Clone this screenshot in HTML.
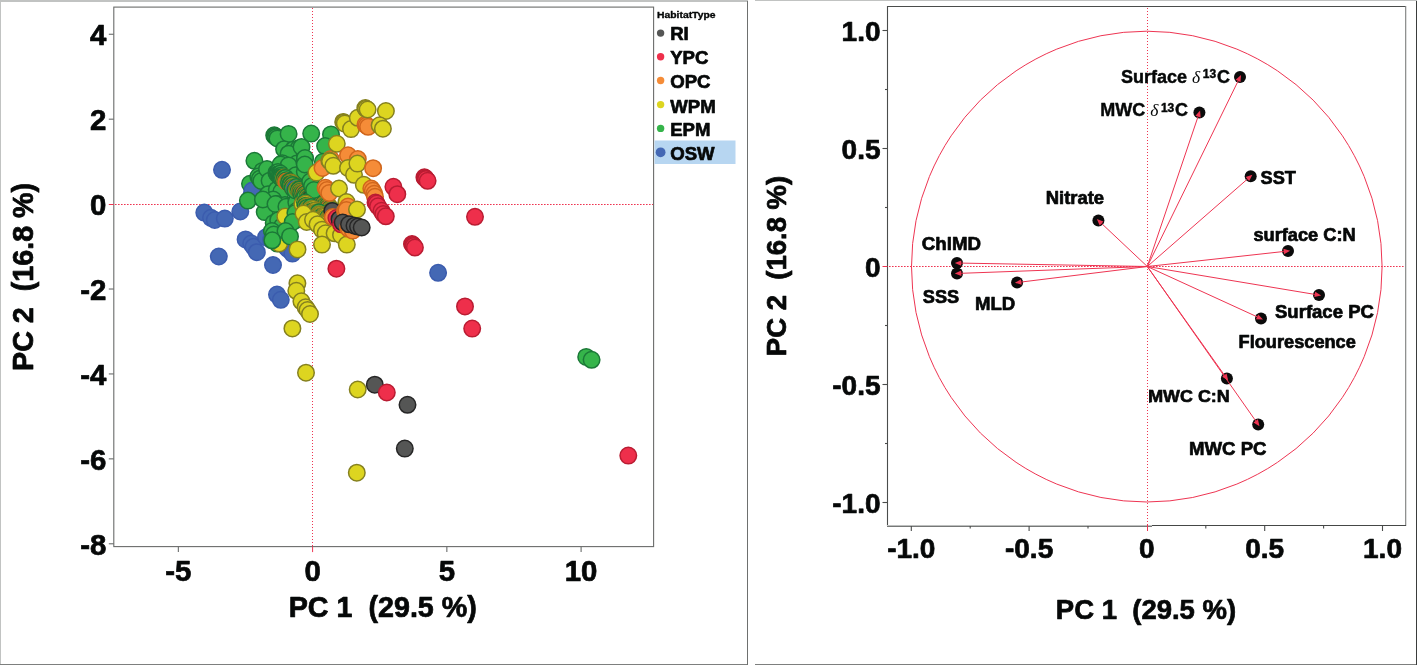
<!DOCTYPE html>
<html lang="en"><head><meta charset="utf-8"><title>PCA plots</title>
<style>html,body{margin:0;padding:0;background:#fff;}body{width:1417px;height:666px;overflow:hidden;}svg{display:block;}text{font-family:'Liberation Sans', Arial, Helvetica, sans-serif;font-weight:bold;fill:#060808;stroke:#060808;stroke-width:0.7px;stroke-linejoin:round;}.s{stroke-width:0.45px;}</style>
</head><body>
<svg width="1417" height="666" viewBox="0 0 1417 666">
<rect x="0" y="0" width="1417" height="666" fill="#ffffff"/>
<g shape-rendering="crispEdges">
<rect x="0" y="0" width="748" height="2" fill="#c1c3c2"/>
<rect x="0" y="0" width="1" height="665" fill="#c1c3c2"/>
<rect x="0" y="664" width="748" height="1" fill="#7d7f7e"/>
<rect x="747" y="1" width="1" height="664" fill="#6e706f"/>
<rect x="755" y="0" width="662" height="1" fill="#c1c3c2"/>
<rect x="755" y="664" width="662" height="1" fill="#7d7f7e"/>
<rect x="1416" y="1" width="1" height="664" fill="#3a3c3b"/>
</g>
<g fill="none" stroke="#6a6c6b" stroke-width="1.1">
<rect x="113.8" y="7.1" width="539.8" height="539.5"/>
<path d="M108.8 34.26H113.8"/>
<path d="M108.8 119.18H113.8"/>
<path d="M108.8 289.02H113.8"/>
<path d="M108.8 373.94H113.8"/>
<path d="M108.8 458.86H113.8"/>
<path d="M108.8 543.78H113.8"/>
<path d="M178.35 546.6V552.1"/>
<path d="M446.85 546.6V552.1"/>
<path d="M581.10 546.6V552.1"/>
</g>
<g fill="none" stroke="#ee3552" stroke-width="1">
<path d="M108.8 204.5H113.8"/>
<path d="M312.60 546.6V552.1"/>
<path stroke-dasharray="1.6 1.4" d="M115 204.5H653"/>
<path stroke-dasharray="1 2" d="M312.5 8V546"/>
</g>
<g font-size="29.4">
<text x="106.4" y="45.0" text-anchor="end">4</text>
<text x="106.4" y="129.9" text-anchor="end">2</text>
<text x="106.4" y="214.8" text-anchor="end">0</text>
<text x="106.4" y="299.7" text-anchor="end">-2</text>
<text x="106.4" y="384.6" text-anchor="end">-4</text>
<text x="106.4" y="469.6" text-anchor="end">-6</text>
<text x="106.4" y="554.5" text-anchor="end">-8</text>
<text x="178.4" y="581.3" text-anchor="middle">-5</text>
<text x="312.6" y="581.3" text-anchor="middle">0</text>
<text x="446.9" y="581.3" text-anchor="middle">5</text>
<text x="581.1" y="581.3" text-anchor="middle">10</text>
<text x="382.8" y="616.5" font-size="28.7" text-anchor="middle" xml:space="preserve">PC 1  (29.5 %)</text>
<text transform="translate(32.7 276.9) rotate(-90)" font-size="28.7" text-anchor="middle" xml:space="preserve">PC 2  (16.8 %)</text>
</g>
<g stroke-width="1.50">
<circle cx="222.0" cy="169.8" r="8.25" fill="#4468b4" stroke="#3b5cae"/>
<circle cx="204.3" cy="212.6" r="8.25" fill="#4468b4" stroke="#3b5cae"/>
<circle cx="211.0" cy="217.8" r="8.25" fill="#4468b4" stroke="#3b5cae"/>
<circle cx="214.8" cy="220.0" r="8.25" fill="#4468b4" stroke="#3b5cae"/>
<circle cx="224.8" cy="218.6" r="8.25" fill="#4468b4" stroke="#3b5cae"/>
<circle cx="240.3" cy="211.5" r="8.25" fill="#4468b4" stroke="#3b5cae"/>
<circle cx="251.2" cy="195.9" r="8.25" fill="#4468b4" stroke="#3b5cae"/>
<circle cx="245.6" cy="239.4" r="8.25" fill="#4468b4" stroke="#3b5cae"/>
<circle cx="251.2" cy="243.6" r="8.25" fill="#4468b4" stroke="#3b5cae"/>
<circle cx="253.5" cy="246.8" r="8.25" fill="#4468b4" stroke="#3b5cae"/>
<circle cx="256.8" cy="252.2" r="8.25" fill="#4468b4" stroke="#3b5cae"/>
<circle cx="218.8" cy="256.5" r="8.25" fill="#4468b4" stroke="#3b5cae"/>
<circle cx="266.0" cy="237.3" r="8.25" fill="#4468b4" stroke="#3b5cae"/>
<circle cx="271.0" cy="240.0" r="8.25" fill="#4468b4" stroke="#3b5cae"/>
<circle cx="273.0" cy="265.0" r="8.25" fill="#4468b4" stroke="#3b5cae"/>
<circle cx="277.0" cy="294.6" r="8.25" fill="#4468b4" stroke="#3b5cae"/>
<circle cx="280.8" cy="299.8" r="8.25" fill="#4468b4" stroke="#3b5cae"/>
<circle cx="286.4" cy="247.3" r="8.25" fill="#4468b4" stroke="#3b5cae"/>
<circle cx="288.3" cy="249.3" r="8.25" fill="#4468b4" stroke="#3b5cae"/>
<circle cx="292.4" cy="253.6" r="8.25" fill="#4468b4" stroke="#3b5cae"/>
<circle cx="438.1" cy="272.8" r="8.25" fill="#4468b4" stroke="#3b5cae"/>
<circle cx="250.0" cy="183.8" r="8.25" fill="#35b44a" stroke="#1b7837"/>
<circle cx="252.3" cy="190.6" r="8.25" fill="#4468b4" stroke="#3b5cae"/>
<circle cx="274.2" cy="135.3" r="8.25" fill="#35b44a" stroke="#1b7837"/>
<circle cx="275.1" cy="136.2" r="8.25" fill="#35b44a" stroke="#1b7837"/>
<circle cx="276.0" cy="137.2" r="8.25" fill="#35b44a" stroke="#1b7837"/>
<circle cx="277.4" cy="138.4" r="8.25" fill="#35b44a" stroke="#1b7837"/>
<circle cx="288.6" cy="133.9" r="8.25" fill="#35b44a" stroke="#1b7837"/>
<circle cx="311.2" cy="133.6" r="8.25" fill="#35b44a" stroke="#1b7837"/>
<circle cx="331.0" cy="134.4" r="8.25" fill="#35b44a" stroke="#1b7837"/>
<circle cx="284.1" cy="149.2" r="8.25" fill="#35b44a" stroke="#1b7837"/>
<circle cx="293.2" cy="149.7" r="8.25" fill="#35b44a" stroke="#1b7837"/>
<circle cx="298.6" cy="148.3" r="8.25" fill="#35b44a" stroke="#1b7837"/>
<circle cx="288.6" cy="153.7" r="8.25" fill="#35b44a" stroke="#1b7837"/>
<circle cx="325.1" cy="146.1" r="8.25" fill="#35b44a" stroke="#1b7837"/>
<circle cx="301.5" cy="147.0" r="8.25" fill="#35b44a" stroke="#1b7837"/>
<circle cx="254.4" cy="160.8" r="8.25" fill="#35b44a" stroke="#1b7837"/>
<circle cx="282.3" cy="163.2" r="8.25" fill="#35b44a" stroke="#1b7837"/>
<circle cx="290.0" cy="166.4" r="8.25" fill="#35b44a" stroke="#1b7837"/>
<circle cx="296.8" cy="163.6" r="8.25" fill="#35b44a" stroke="#1b7837"/>
<circle cx="304.9" cy="159.1" r="8.25" fill="#35b44a" stroke="#1b7837"/>
<circle cx="322.9" cy="161.8" r="8.25" fill="#35b44a" stroke="#1b7837"/>
<circle cx="305.0" cy="158.0" r="8.25" fill="#35b44a" stroke="#1b7837"/>
<circle cx="267.5" cy="170.0" r="8.25" fill="#35b44a" stroke="#1b7837"/>
<circle cx="262.5" cy="170.9" r="8.25" fill="#35b44a" stroke="#1b7837"/>
<circle cx="277.8" cy="170.9" r="8.25" fill="#35b44a" stroke="#1b7837"/>
<circle cx="304.9" cy="172.7" r="8.25" fill="#35b44a" stroke="#1b7837"/>
<circle cx="258.3" cy="176.5" r="8.25" fill="#35b44a" stroke="#1b7837"/>
<circle cx="259.8" cy="178.8" r="8.25" fill="#35b44a" stroke="#1b7837"/>
<circle cx="261.3" cy="181.0" r="8.25" fill="#35b44a" stroke="#1b7837"/>
<circle cx="267.0" cy="169.0" r="8.25" fill="#35b44a" stroke="#1b7837"/>
<circle cx="269.6" cy="180.7" r="8.25" fill="#35b44a" stroke="#1b7837"/>
<circle cx="268.0" cy="194.2" r="8.25" fill="#35b44a" stroke="#1b7837"/>
<circle cx="280.5" cy="164.5" r="8.25" fill="#35b44a" stroke="#1b7837"/>
<circle cx="288.6" cy="165.4" r="8.25" fill="#35b44a" stroke="#1b7837"/>
<circle cx="276.8" cy="189.7" r="8.25" fill="#35b44a" stroke="#1b7837"/>
<circle cx="281.4" cy="191.5" r="8.25" fill="#35b44a" stroke="#1b7837"/>
<circle cx="273.2" cy="199.6" r="8.25" fill="#35b44a" stroke="#1b7837"/>
<circle cx="276.8" cy="204.1" r="8.25" fill="#35b44a" stroke="#1b7837"/>
<circle cx="285.0" cy="205.0" r="8.25" fill="#35b44a" stroke="#1b7837"/>
<circle cx="294.9" cy="203.2" r="8.25" fill="#35b44a" stroke="#1b7837"/>
<circle cx="293.0" cy="212.3" r="8.25" fill="#35b44a" stroke="#1b7837"/>
<circle cx="295.8" cy="175.3" r="8.25" fill="#35b44a" stroke="#1b7837"/>
<circle cx="304.8" cy="171.7" r="8.25" fill="#35b44a" stroke="#1b7837"/>
<circle cx="304.8" cy="164.5" r="8.25" fill="#35b44a" stroke="#1b7837"/>
<circle cx="247.9" cy="200.6" r="8.25" fill="#35b44a" stroke="#1b7837"/>
<circle cx="264.7" cy="212.1" r="8.25" fill="#35b44a" stroke="#1b7837"/>
<circle cx="262.9" cy="199.5" r="8.25" fill="#35b44a" stroke="#1b7837"/>
<circle cx="275.5" cy="204.0" r="8.25" fill="#35b44a" stroke="#1b7837"/>
<circle cx="286.4" cy="206.7" r="8.25" fill="#35b44a" stroke="#1b7837"/>
<circle cx="296.3" cy="202.2" r="8.25" fill="#35b44a" stroke="#1b7837"/>
<circle cx="273.7" cy="222.9" r="8.25" fill="#35b44a" stroke="#1b7837"/>
<circle cx="278.2" cy="220.2" r="8.25" fill="#35b44a" stroke="#1b7837"/>
<circle cx="281.8" cy="226.5" r="8.25" fill="#35b44a" stroke="#1b7837"/>
<circle cx="271.9" cy="231.0" r="8.25" fill="#35b44a" stroke="#1b7837"/>
<circle cx="273.7" cy="234.6" r="8.25" fill="#35b44a" stroke="#1b7837"/>
<circle cx="277.3" cy="243.6" r="8.25" fill="#35b44a" stroke="#1b7837"/>
<circle cx="296.8" cy="210.8" r="8.25" fill="#35b44a" stroke="#1b7837"/>
<circle cx="295.9" cy="219.8" r="8.25" fill="#35b44a" stroke="#1b7837"/>
<circle cx="285.3" cy="216.5" r="8.25" fill="#ddd520" stroke="#85801f"/>
<circle cx="279.3" cy="243.4" r="8.25" fill="#ddd520" stroke="#85801f"/>
<circle cx="295.4" cy="213.0" r="8.25" fill="#35b44a" stroke="#1b7837"/>
<circle cx="292.7" cy="222.0" r="8.25" fill="#35b44a" stroke="#1b7837"/>
<circle cx="285.5" cy="231.0" r="8.25" fill="#35b44a" stroke="#1b7837"/>
<circle cx="272.3" cy="240.3" r="8.25" fill="#35b44a" stroke="#1b7837"/>
<circle cx="290.0" cy="236.4" r="8.25" fill="#35b44a" stroke="#1b7837"/>
<circle cx="276.4" cy="172.7" r="8.25" fill="#35b44a" stroke="#1b7837"/>
<circle cx="278.0" cy="172.1" r="8.25" fill="#35b44a" stroke="#1b7837"/>
<circle cx="277.4" cy="174.5" r="8.25" fill="#35b44a" stroke="#1b7837"/>
<circle cx="278.7" cy="174.6" r="8.25" fill="#35b44a" stroke="#1b7837"/>
<circle cx="280.4" cy="173.6" r="8.25" fill="#35b44a" stroke="#1b7837"/>
<circle cx="279.6" cy="176.3" r="8.25" fill="#35b44a" stroke="#1b7837"/>
<circle cx="281.1" cy="175.7" r="8.25" fill="#35b44a" stroke="#1b7837"/>
<circle cx="280.8" cy="177.6" r="8.25" fill="#35b44a" stroke="#1b7837"/>
<circle cx="281.5" cy="177.7" r="8.25" fill="#35b44a" stroke="#1b7837"/>
<circle cx="283.0" cy="177.8" r="8.25" fill="#35b44a" stroke="#1b7837"/>
<circle cx="284.3" cy="177.5" r="8.25" fill="#ddd520" stroke="#85801f"/>
<circle cx="284.9" cy="178.2" r="8.25" fill="#35b44a" stroke="#1b7837"/>
<circle cx="285.5" cy="178.1" r="8.25" fill="#35b44a" stroke="#1b7837"/>
<circle cx="285.2" cy="180.7" r="8.25" fill="#ddd520" stroke="#85801f"/>
<circle cx="286.4" cy="180.2" r="8.25" fill="#35b44a" stroke="#1b7837"/>
<circle cx="286.5" cy="181.6" r="8.25" fill="#f58c38" stroke="#d0661c"/>
<circle cx="288.0" cy="181.7" r="8.25" fill="#ddd520" stroke="#85801f"/>
<circle cx="289.4" cy="181.5" r="8.25" fill="#35b44a" stroke="#1b7837"/>
<circle cx="289.0" cy="182.8" r="8.25" fill="#35b44a" stroke="#1b7837"/>
<circle cx="290.8" cy="182.4" r="8.25" fill="#ddd520" stroke="#85801f"/>
<circle cx="290.5" cy="183.9" r="8.25" fill="#35b44a" stroke="#1b7837"/>
<circle cx="290.9" cy="184.4" r="8.25" fill="#35b44a" stroke="#1b7837"/>
<circle cx="292.6" cy="184.3" r="8.25" fill="#ddd520" stroke="#85801f"/>
<circle cx="292.8" cy="185.0" r="8.25" fill="#35b44a" stroke="#1b7837"/>
<circle cx="292.6" cy="187.4" r="8.25" fill="#f58c38" stroke="#d0661c"/>
<circle cx="292.7" cy="188.1" r="8.25" fill="#35b44a" stroke="#1b7837"/>
<circle cx="294.8" cy="187.2" r="8.25" fill="#ddd520" stroke="#85801f"/>
<circle cx="296.2" cy="187.0" r="8.25" fill="#35b44a" stroke="#1b7837"/>
<circle cx="295.2" cy="189.2" r="8.25" fill="#4468b4" stroke="#3b5cae"/>
<circle cx="295.4" cy="190.4" r="8.25" fill="#35b44a" stroke="#1b7837"/>
<circle cx="297.4" cy="189.0" r="8.25" fill="#ddd520" stroke="#85801f"/>
<circle cx="298.9" cy="189.3" r="8.25" fill="#35b44a" stroke="#1b7837"/>
<circle cx="299.7" cy="189.5" r="8.25" fill="#35b44a" stroke="#1b7837"/>
<circle cx="299.8" cy="191.1" r="8.25" fill="#ddd520" stroke="#85801f"/>
<circle cx="300.6" cy="191.7" r="8.25" fill="#35b44a" stroke="#1b7837"/>
<circle cx="301.1" cy="192.2" r="8.25" fill="#ddd520" stroke="#85801f"/>
<circle cx="301.2" cy="193.6" r="8.25" fill="#35b44a" stroke="#1b7837"/>
<circle cx="302.7" cy="192.7" r="8.25" fill="#ddd520" stroke="#85801f"/>
<circle cx="303.2" cy="193.5" r="8.25" fill="#35b44a" stroke="#1b7837"/>
<circle cx="304.5" cy="193.5" r="8.25" fill="#f58c38" stroke="#d0661c"/>
<circle cx="305.1" cy="194.3" r="8.25" fill="#35b44a" stroke="#1b7837"/>
<circle cx="305.4" cy="195.6" r="8.25" fill="#ddd520" stroke="#85801f"/>
<circle cx="305.0" cy="197.0" r="8.25" fill="#35b44a" stroke="#1b7837"/>
<circle cx="308.0" cy="194.8" r="8.25" fill="#ddd520" stroke="#85801f"/>
<circle cx="308.0" cy="196.2" r="8.25" fill="#35b44a" stroke="#1b7837"/>
<circle cx="308.1" cy="197.7" r="8.25" fill="#ddd520" stroke="#85801f"/>
<circle cx="308.9" cy="198.3" r="8.25" fill="#35b44a" stroke="#1b7837"/>
<circle cx="309.1" cy="199.5" r="8.25" fill="#ddd520" stroke="#85801f"/>
<circle cx="310.3" cy="199.2" r="8.25" fill="#555655" stroke="#262626"/>
<circle cx="311.0" cy="199.6" r="8.25" fill="#35b44a" stroke="#1b7837"/>
<circle cx="312.7" cy="198.7" r="8.25" fill="#35b44a" stroke="#1b7837"/>
<circle cx="313.2" cy="200.2" r="8.25" fill="#ddd520" stroke="#85801f"/>
<circle cx="314.7" cy="199.1" r="8.25" fill="#35b44a" stroke="#1b7837"/>
<circle cx="315.5" cy="200.1" r="8.25" fill="#f58c38" stroke="#d0661c"/>
<circle cx="314.9" cy="201.8" r="8.25" fill="#35b44a" stroke="#1b7837"/>
<circle cx="316.0" cy="202.5" r="8.25" fill="#ddd520" stroke="#85801f"/>
<circle cx="316.5" cy="202.9" r="8.25" fill="#ddd520" stroke="#85801f"/>
<circle cx="318.6" cy="201.7" r="8.25" fill="#35b44a" stroke="#1b7837"/>
<circle cx="318.0" cy="203.9" r="8.25" fill="#ddd520" stroke="#85801f"/>
<circle cx="319.1" cy="203.7" r="8.25" fill="#35b44a" stroke="#1b7837"/>
<circle cx="320.3" cy="204.0" r="8.25" fill="#ddd520" stroke="#85801f"/>
<circle cx="320.2" cy="205.1" r="8.25" fill="#35b44a" stroke="#1b7837"/>
<circle cx="323.2" cy="203.2" r="8.25" fill="#f58c38" stroke="#d0661c"/>
<circle cx="324.2" cy="203.3" r="8.25" fill="#35b44a" stroke="#1b7837"/>
<circle cx="324.4" cy="204.6" r="8.25" fill="#ddd520" stroke="#85801f"/>
<circle cx="324.4" cy="205.4" r="8.25" fill="#ddd520" stroke="#85801f"/>
<circle cx="324.4" cy="206.8" r="8.25" fill="#35b44a" stroke="#1b7837"/>
<circle cx="325.8" cy="206.7" r="8.25" fill="#ddd520" stroke="#85801f"/>
<circle cx="327.9" cy="205.9" r="8.25" fill="#35b44a" stroke="#1b7837"/>
<circle cx="328.8" cy="206.2" r="8.25" fill="#ddd520" stroke="#85801f"/>
<circle cx="327.5" cy="208.8" r="8.25" fill="#35b44a" stroke="#1b7837"/>
<circle cx="328.9" cy="208.6" r="8.25" fill="#f58c38" stroke="#d0661c"/>
<circle cx="330.2" cy="208.8" r="8.25" fill="#35b44a" stroke="#1b7837"/>
<circle cx="330.4" cy="209.6" r="8.25" fill="#ddd520" stroke="#85801f"/>
<circle cx="331.8" cy="209.3" r="8.25" fill="#ddd520" stroke="#85801f"/>
<circle cx="331.8" cy="210.8" r="8.25" fill="#35b44a" stroke="#1b7837"/>
<circle cx="310.2" cy="181.6" r="8.25" fill="#35b44a" stroke="#1b7837"/>
<circle cx="312.0" cy="186.0" r="8.25" fill="#35b44a" stroke="#1b7837"/>
<circle cx="314.0" cy="190.0" r="8.25" fill="#35b44a" stroke="#1b7837"/>
<circle cx="302.4" cy="204.2" r="8.25" fill="#ddd520" stroke="#85801f"/>
<circle cx="305.0" cy="202.6" r="8.25" fill="#35b44a" stroke="#1b7837"/>
<circle cx="305.7" cy="203.8" r="8.25" fill="#ddd520" stroke="#85801f"/>
<circle cx="305.6" cy="205.8" r="8.25" fill="#35b44a" stroke="#1b7837"/>
<circle cx="307.1" cy="206.3" r="8.25" fill="#ddd520" stroke="#85801f"/>
<circle cx="307.0" cy="207.8" r="8.25" fill="#35b44a" stroke="#1b7837"/>
<circle cx="308.4" cy="208.7" r="8.25" fill="#ddd520" stroke="#85801f"/>
<circle cx="311.1" cy="207.1" r="8.25" fill="#35b44a" stroke="#1b7837"/>
<circle cx="311.1" cy="209.2" r="8.25" fill="#ddd520" stroke="#85801f"/>
<circle cx="313.1" cy="209.0" r="8.25" fill="#ddd520" stroke="#85801f"/>
<circle cx="313.0" cy="210.9" r="8.25" fill="#35b44a" stroke="#1b7837"/>
<circle cx="315.2" cy="210.7" r="8.25" fill="#ddd520" stroke="#85801f"/>
<circle cx="314.8" cy="212.8" r="8.25" fill="#ddd520" stroke="#85801f"/>
<circle cx="317.5" cy="212.0" r="8.25" fill="#ddd520" stroke="#85801f"/>
<circle cx="318.9" cy="212.2" r="8.25" fill="#35b44a" stroke="#1b7837"/>
<circle cx="319.0" cy="214.3" r="8.25" fill="#ddd520" stroke="#85801f"/>
<circle cx="320.3" cy="214.7" r="8.25" fill="#ddd520" stroke="#85801f"/>
<circle cx="320.9" cy="216.0" r="8.25" fill="#ddd520" stroke="#85801f"/>
<circle cx="321.6" cy="217.0" r="8.25" fill="#35b44a" stroke="#1b7837"/>
<circle cx="324.8" cy="215.4" r="8.25" fill="#ddd520" stroke="#85801f"/>
<circle cx="325.9" cy="215.9" r="8.25" fill="#ddd520" stroke="#85801f"/>
<circle cx="325.6" cy="218.1" r="8.25" fill="#ddd520" stroke="#85801f"/>
<circle cx="327.6" cy="218.3" r="8.25" fill="#35b44a" stroke="#1b7837"/>
<circle cx="328.6" cy="218.8" r="8.25" fill="#ddd520" stroke="#85801f"/>
<circle cx="328.4" cy="220.7" r="8.25" fill="#ddd520" stroke="#85801f"/>
<circle cx="329.7" cy="221.3" r="8.25" fill="#ddd520" stroke="#85801f"/>
<circle cx="303.5" cy="213.5" r="8.25" fill="#ddd520" stroke="#85801f"/>
<circle cx="306.7" cy="222.0" r="8.25" fill="#ddd520" stroke="#85801f"/>
<circle cx="313.0" cy="219.8" r="8.25" fill="#ddd520" stroke="#85801f"/>
<circle cx="317.5" cy="224.3" r="8.25" fill="#ddd520" stroke="#85801f"/>
<circle cx="322.0" cy="229.7" r="8.25" fill="#ddd520" stroke="#85801f"/>
<circle cx="325.6" cy="233.3" r="8.25" fill="#ddd520" stroke="#85801f"/>
<circle cx="334.6" cy="233.3" r="8.25" fill="#ddd520" stroke="#85801f"/>
<circle cx="341.0" cy="235.1" r="8.25" fill="#ddd520" stroke="#85801f"/>
<circle cx="322.0" cy="244.6" r="8.25" fill="#ddd520" stroke="#85801f"/>
<circle cx="346.8" cy="244.6" r="8.25" fill="#ddd520" stroke="#85801f"/>
<circle cx="297.5" cy="249.4" r="8.25" fill="#ddd520" stroke="#85801f"/>
<circle cx="297.4" cy="283.3" r="8.25" fill="#ddd520" stroke="#85801f"/>
<circle cx="296.3" cy="290.8" r="8.25" fill="#ddd520" stroke="#85801f"/>
<circle cx="301.4" cy="301.3" r="8.25" fill="#ddd520" stroke="#85801f"/>
<circle cx="305.6" cy="307.3" r="8.25" fill="#ddd520" stroke="#85801f"/>
<circle cx="307.5" cy="310.0" r="8.25" fill="#ddd520" stroke="#85801f"/>
<circle cx="310.0" cy="314.0" r="8.25" fill="#ddd520" stroke="#85801f"/>
<circle cx="292.4" cy="328.4" r="8.25" fill="#ddd520" stroke="#85801f"/>
<circle cx="306.0" cy="372.7" r="8.25" fill="#ddd520" stroke="#85801f"/>
<circle cx="357.7" cy="389.5" r="8.25" fill="#ddd520" stroke="#85801f"/>
<circle cx="356.8" cy="472.7" r="8.25" fill="#ddd520" stroke="#85801f"/>
<circle cx="316.5" cy="172.6" r="8.25" fill="#ddd520" stroke="#85801f"/>
<circle cx="330.8" cy="159.0" r="8.25" fill="#f58c38" stroke="#d0661c"/>
<circle cx="322.5" cy="168.0" r="8.25" fill="#f58c38" stroke="#d0661c"/>
<circle cx="329.3" cy="160.5" r="8.25" fill="#ddd520" stroke="#85801f"/>
<circle cx="330.0" cy="161.3" r="8.25" fill="#ddd520" stroke="#85801f"/>
<circle cx="333.3" cy="165.8" r="8.25" fill="#ddd520" stroke="#85801f"/>
<circle cx="336.8" cy="143.8" r="8.25" fill="#ddd520" stroke="#85801f"/>
<circle cx="348.0" cy="155.3" r="8.25" fill="#f58c38" stroke="#d0661c"/>
<circle cx="357.8" cy="159.0" r="8.25" fill="#f58c38" stroke="#d0661c"/>
<circle cx="348.0" cy="168.0" r="8.25" fill="#ddd520" stroke="#85801f"/>
<circle cx="354.0" cy="174.8" r="8.25" fill="#ddd520" stroke="#85801f"/>
<circle cx="357.4" cy="163.6" r="8.25" fill="#ddd520" stroke="#85801f"/>
<circle cx="373.1" cy="168.2" r="8.25" fill="#f58c38" stroke="#d0661c"/>
<circle cx="343.2" cy="121.9" r="8.25" fill="#ddd520" stroke="#85801f"/>
<circle cx="343.9" cy="122.6" r="8.25" fill="#ddd520" stroke="#85801f"/>
<circle cx="344.8" cy="123.6" r="8.25" fill="#ddd520" stroke="#85801f"/>
<circle cx="351.0" cy="129.1" r="8.25" fill="#ddd520" stroke="#85801f"/>
<circle cx="357.8" cy="117.8" r="8.25" fill="#ddd520" stroke="#85801f"/>
<circle cx="365.5" cy="124.6" r="8.25" fill="#f58c38" stroke="#d0661c"/>
<circle cx="366.7" cy="125.6" r="8.25" fill="#f58c38" stroke="#d0661c"/>
<circle cx="368.1" cy="126.8" r="8.25" fill="#f58c38" stroke="#d0661c"/>
<circle cx="365.3" cy="108.0" r="8.25" fill="#ddd520" stroke="#85801f"/>
<circle cx="366.0" cy="108.8" r="8.25" fill="#ddd520" stroke="#85801f"/>
<circle cx="367.6" cy="109.5" r="8.25" fill="#ddd520" stroke="#85801f"/>
<circle cx="385.9" cy="111.0" r="8.25" fill="#ddd520" stroke="#85801f"/>
<circle cx="379.6" cy="125.3" r="8.25" fill="#ddd520" stroke="#85801f"/>
<circle cx="382.9" cy="128.7" r="8.25" fill="#ddd520" stroke="#85801f"/>
<circle cx="363.8" cy="184.8" r="8.25" fill="#ddd520" stroke="#85801f"/>
<circle cx="325.5" cy="187.8" r="8.25" fill="#f58c38" stroke="#d0661c"/>
<circle cx="327.0" cy="190.0" r="8.25" fill="#f58c38" stroke="#d0661c"/>
<circle cx="329.3" cy="193.0" r="8.25" fill="#f58c38" stroke="#d0661c"/>
<circle cx="339.0" cy="188.5" r="8.25" fill="#ddd520" stroke="#85801f"/>
<circle cx="371.3" cy="188.5" r="8.25" fill="#f58c38" stroke="#d0661c"/>
<circle cx="372.8" cy="190.8" r="8.25" fill="#f58c38" stroke="#d0661c"/>
<circle cx="374.3" cy="193.8" r="8.25" fill="#f58c38" stroke="#d0661c"/>
<circle cx="375.0" cy="196.8" r="8.25" fill="#f58c38" stroke="#d0661c"/>
<circle cx="346.5" cy="202.0" r="8.25" fill="#ddd520" stroke="#85801f"/>
<circle cx="332.3" cy="211.0" r="8.25" fill="#555655" stroke="#262626"/>
<circle cx="332.8" cy="217.1" r="8.25" fill="#f58c38" stroke="#d0661c"/>
<circle cx="336.4" cy="218.0" r="8.25" fill="#ee2f4b" stroke="#b91c32"/>
<circle cx="339.5" cy="219.2" r="8.25" fill="#555655" stroke="#262626"/>
<circle cx="341.0" cy="224.3" r="8.25" fill="#ee2f4b" stroke="#b91c32"/>
<circle cx="348.0" cy="206.5" r="8.25" fill="#f58c38" stroke="#d0661c"/>
<circle cx="345.0" cy="211.0" r="8.25" fill="#f58c38" stroke="#d0661c"/>
<circle cx="346.4" cy="210.0" r="8.25" fill="#f58c38" stroke="#d0661c"/>
<circle cx="357.0" cy="209.5" r="8.25" fill="#ddd520" stroke="#85801f"/>
<circle cx="342.7" cy="222.5" r="8.25" fill="#555655" stroke="#262626"/>
<circle cx="348.0" cy="227.6" r="8.25" fill="#f58c38" stroke="#d0661c"/>
<circle cx="349.0" cy="228.8" r="8.25" fill="#f58c38" stroke="#d0661c"/>
<circle cx="352.7" cy="230.6" r="8.25" fill="#f58c38" stroke="#d0661c"/>
<circle cx="349.0" cy="224.3" r="8.25" fill="#555655" stroke="#262626"/>
<circle cx="354.5" cy="225.7" r="8.25" fill="#555655" stroke="#262626"/>
<circle cx="358.0" cy="226.6" r="8.25" fill="#555655" stroke="#262626"/>
<circle cx="361.7" cy="227.5" r="8.25" fill="#555655" stroke="#262626"/>
<circle cx="374.8" cy="384.7" r="8.25" fill="#555655" stroke="#262626"/>
<circle cx="424.4" cy="177.3" r="8.25" fill="#ee2f4b" stroke="#b91c32"/>
<circle cx="425.2" cy="178.2" r="8.25" fill="#ee2f4b" stroke="#b91c32"/>
<circle cx="426.0" cy="179.0" r="8.25" fill="#ee2f4b" stroke="#b91c32"/>
<circle cx="427.6" cy="180.8" r="8.25" fill="#ee2f4b" stroke="#b91c32"/>
<circle cx="393.4" cy="186.8" r="8.25" fill="#ee2f4b" stroke="#b91c32"/>
<circle cx="397.3" cy="194.2" r="8.25" fill="#ee2f4b" stroke="#b91c32"/>
<circle cx="375.5" cy="202.5" r="8.25" fill="#ee2f4b" stroke="#b91c32"/>
<circle cx="376.6" cy="203.5" r="8.25" fill="#ee2f4b" stroke="#b91c32"/>
<circle cx="378.0" cy="206.3" r="8.25" fill="#ee2f4b" stroke="#b91c32"/>
<circle cx="381.5" cy="210.8" r="8.25" fill="#ee2f4b" stroke="#b91c32"/>
<circle cx="383.3" cy="214.0" r="8.25" fill="#ee2f4b" stroke="#b91c32"/>
<circle cx="385.8" cy="216.3" r="8.25" fill="#ee2f4b" stroke="#b91c32"/>
<circle cx="412.0" cy="244.0" r="8.25" fill="#ee2f4b" stroke="#b91c32"/>
<circle cx="412.8" cy="245.0" r="8.25" fill="#ee2f4b" stroke="#b91c32"/>
<circle cx="413.6" cy="246.0" r="8.25" fill="#ee2f4b" stroke="#b91c32"/>
<circle cx="414.9" cy="247.5" r="8.25" fill="#ee2f4b" stroke="#b91c32"/>
<circle cx="475.0" cy="216.8" r="8.25" fill="#ee2f4b" stroke="#b91c32"/>
<circle cx="336.4" cy="268.7" r="8.25" fill="#ee2f4b" stroke="#b91c32"/>
<circle cx="465.0" cy="306.4" r="8.25" fill="#ee2f4b" stroke="#b91c32"/>
<circle cx="472.2" cy="328.6" r="8.25" fill="#ee2f4b" stroke="#b91c32"/>
<circle cx="386.8" cy="392.5" r="8.25" fill="#ee2f4b" stroke="#b91c32"/>
<circle cx="628.3" cy="455.6" r="8.25" fill="#ee2f4b" stroke="#b91c32"/>
<circle cx="407.5" cy="404.8" r="8.25" fill="#555655" stroke="#262626"/>
<circle cx="404.8" cy="448.6" r="8.25" fill="#555655" stroke="#262626"/>
<circle cx="586.2" cy="356.9" r="8.25" fill="#35b44a" stroke="#1b7837"/>
<circle cx="591.6" cy="359.8" r="8.25" fill="#35b44a" stroke="#1b7837"/>
</g>
<text x="657" y="17.6" font-size="9.5" style="stroke-width:0.35px" textLength="58.5" lengthAdjust="spacingAndGlyphs">HabitatType</text>
<rect x="654.5" y="140.5" width="81" height="23.5" fill="#b7d6f1"/>
<g font-size="18.6" class="s">
<circle cx="660.6" cy="33.1" r="3.7" fill="#555655"/>
<text x="670.2" y="40.4">RI</text>
<circle cx="660.6" cy="56.8" r="3.7" fill="#ee2f4b"/>
<text x="670.2" y="64.2">YPC</text>
<circle cx="660.6" cy="80.5" r="3.7" fill="#f58c38"/>
<text x="670.2" y="87.9">OPC</text>
<circle cx="660.6" cy="104.6" r="3.7" fill="#ddd520"/>
<text x="670.2" y="112.6">WPM</text>
<circle cx="660.6" cy="128.4" r="3.7" fill="#35b44a"/>
<text x="670.2" y="136.4">EPM</text>
<circle cx="660.6" cy="152.3" r="4.9" fill="#4468b4"/>
<text x="670.2" y="159.9">OSW</text>
</g>
<g fill="none" stroke="#4a4c4b" stroke-width="1.1">
<path d="M887.5 526.5V6.5H1405.7"/>
<path stroke="#7c7e7d" d="M1405.7 6.0V526.0"/>
<rect x="887" y="525" width="264.5" height="1" fill="#bdbfbe" stroke="none" shape-rendering="crispEdges"/>
<rect x="887" y="526" width="264.5" height="1" fill="#767877" stroke="none" shape-rendering="crispEdges"/>
<rect x="1151.5" y="525" width="254.8" height="1" fill="#454746" stroke="none" shape-rendering="crispEdges"/>
<path d="M882.5 30.50H887.5"/>
<path d="M882.5 148.50H887.5"/>
<path d="M882.5 384.50H887.5"/>
<path d="M882.5 502.50H887.5"/>
<path d="M885.0 89.50H887.5"/>
<path d="M885.0 207.50H887.5"/>
<path d="M885.0 325.50H887.5"/>
<path d="M885.0 443.50H887.5"/>
<path d="M911.30 526.0V531.0"/>
<path d="M1029.10 526.0V531.0"/>
<path d="M1264.70 526.0V531.0"/>
<path d="M1382.50 526.0V531.0"/>
<path d="M970.20 526.0V528.5"/>
<path d="M1088.00 526.0V528.5"/>
<path d="M1205.80 526.0V528.5"/>
<path d="M1323.60 526.0V528.5"/>
</g>
<g fill="none" stroke="#ee3552" stroke-width="1">
<path d="M882.5 266.50H887.5"/>
<path d="M1147.5 524V531"/>
<path stroke-dasharray="1.6 1.4" d="M889 266.5H1405"/>
<path stroke-dasharray="1 2" d="M1147.5 8V526"/>
<ellipse cx="1146.8" cy="266.6" rx="235.3" ry="235.4"/>
</g>
<g font-size="28">
<text x="880.5" y="40.7" text-anchor="end">1.0</text>
<text x="880.5" y="158.7" text-anchor="end">0.5</text>
<text x="880.5" y="276.7" text-anchor="end">0</text>
<text x="880.5" y="394.7" text-anchor="end">-0.5</text>
<text x="880.5" y="512.7" text-anchor="end">-1.0</text>
<text x="911.3" y="558.0" text-anchor="middle">-1.0</text>
<text x="1029.1" y="558.0" text-anchor="middle">-0.5</text>
<text x="1146.9" y="558.0" text-anchor="middle">0</text>
<text x="1264.7" y="558.0" text-anchor="middle">0.5</text>
<text x="1382.5" y="558.0" text-anchor="middle">1.0</text>
<text x="1146" y="618.5" font-size="27.5"text-anchor="middle" xml:space="preserve">PC 1  (29.5 %)</text>
<text transform="translate(786.1 266) rotate(-90)" font-size="27.5" text-anchor="middle" xml:space="preserve">PC 2  (16.8 %)</text>
</g>
<circle cx="1240.0" cy="77.1" r="6" fill="#0b0b0b"/>
<circle cx="1199.4" cy="112.6" r="6" fill="#0b0b0b"/>
<circle cx="1250.7" cy="176.2" r="6" fill="#0b0b0b"/>
<circle cx="1098.4" cy="220.5" r="6" fill="#0b0b0b"/>
<circle cx="1288.0" cy="251.0" r="6" fill="#0b0b0b"/>
<circle cx="957.0" cy="263.0" r="6" fill="#0b0b0b"/>
<circle cx="957.0" cy="273.5" r="6" fill="#0b0b0b"/>
<circle cx="1017.1" cy="282.5" r="6" fill="#0b0b0b"/>
<circle cx="1319.0" cy="295.1" r="6" fill="#0b0b0b"/>
<circle cx="1261.0" cy="318.6" r="6" fill="#0b0b0b"/>
<circle cx="1226.9" cy="378.6" r="6" fill="#0b0b0b"/>
<circle cx="1258.2" cy="424.4" r="6" fill="#0b0b0b"/>
<g stroke="#ee3552" stroke-width="1" fill="#ee3552">
<path d="M1147.3 266.5L1238.1 81.0"/>
<path stroke="none" d="M1241.0 75.1L1240.5 82.1L1235.7 79.8Z"/>
<path d="M1147.3 266.5L1198.0 116.7"/>
<path stroke="none" d="M1200.1 110.5L1200.6 117.5L1195.5 115.8Z"/>
<path d="M1147.3 266.5L1247.5 179.0"/>
<path stroke="none" d="M1252.4 174.8L1249.2 181.1L1245.7 177.0Z"/>
<path d="M1147.3 266.5L1101.5 223.4"/>
<path stroke="none" d="M1096.8 219.0L1103.4 221.5L1099.7 225.4Z"/>
<path d="M1147.3 266.5L1283.7 251.5"/>
<path stroke="none" d="M1290.2 250.8L1284.0 254.2L1283.4 248.8Z"/>
<path d="M1147.3 266.5L961.3 263.1"/>
<path stroke="none" d="M954.8 263.0L961.3 260.4L961.2 265.8Z"/>
<path d="M1147.3 266.5L961.3 273.3"/>
<path stroke="none" d="M954.8 273.6L961.2 270.6L961.4 276.0Z"/>
<path d="M1147.3 266.5L1021.4 282.0"/>
<path stroke="none" d="M1014.9 282.8L1021.0 279.3L1021.7 284.7Z"/>
<path d="M1147.3 266.5L1314.8 294.4"/>
<path stroke="none" d="M1321.2 295.5L1314.3 297.1L1315.2 291.7Z"/>
<path d="M1147.3 266.5L1257.1 316.8"/>
<path stroke="none" d="M1263.0 319.5L1256.0 319.3L1258.2 314.4Z"/>
<path d="M1147.3 266.5L1224.4 375.1"/>
<path stroke="none" d="M1228.2 380.4L1222.2 376.7L1226.6 373.5Z"/>
<path d="M1147.3 266.5L1255.7 420.9"/>
<path stroke="none" d="M1259.5 426.2L1253.5 422.4L1257.9 419.3Z"/>
</g>
<text x="1121.0" y="82.6" font-size="18" class="s" xml:space="preserve">Surface <tspan font-family="'Liberation Serif', 'DejaVu Serif', serif" font-style="italic" font-weight="normal" font-size="17.5" stroke="none">δ</tspan><tspan font-size="12" dx="2.6" dy="-4.3">13</tspan><tspan dx="0.8" dy="4.3">C</tspan></text>
<text x="1100.2" y="116.3" font-size="18" class="s" xml:space="preserve">MWC <tspan font-family="'Liberation Serif', 'DejaVu Serif', serif" font-style="italic" font-weight="normal" font-size="17.5" stroke="none">δ</tspan><tspan font-size="12" dx="2.6" dy="-4.3">13</tspan><tspan dx="0.8" dy="4.3">C</tspan></text>
<g font-size="18.2" class="s">
<text x="1260.5" y="184.1">SST</text>
<text x="1045.7" y="204.1" font-size="18.45">Nitrate</text>
<text x="1253.5" y="241">surface C:N</text>
<text x="921.8" y="250" font-size="18.7">ChlMD</text>
<text x="922.8" y="302.6">SSS</text>
<text x="975" y="309.5" font-size="18.6">MLD</text>
<text x="1275" y="317.5" font-size="18.55">Surface PC</text>
<text x="1238.6" y="348.1">Flourescence</text>
<text x="1189" y="454.6" font-size="18.6">MWC PC</text>
<text transform="translate(1148.2 401.7) scale(0.985 0.92)">MWC C:N</text>
</g>
<rect x="1149.2" y="389.8" width="1.2" height="13.2" fill="#111"/>
</svg></body></html>
